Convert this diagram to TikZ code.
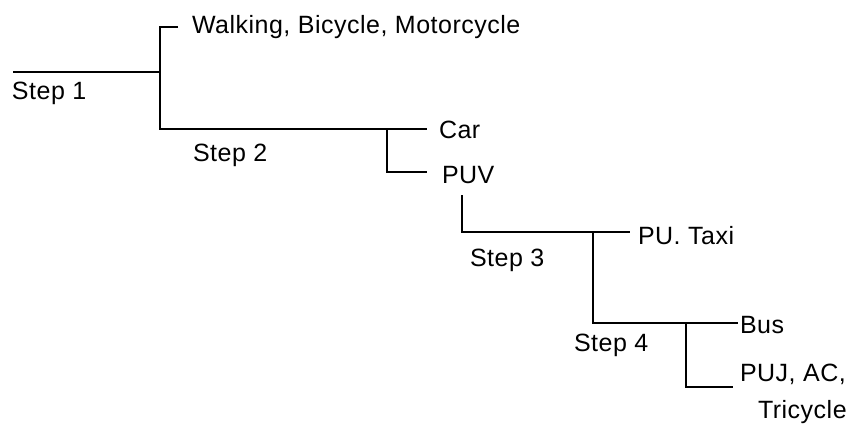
\documentclass[tikz,border=0pt]{standalone}
\usepackage{fontspec}
\setmainfont[LetterSpace=2]{Liberation Sans}
\begin{document}
\begin{tikzpicture}[x=1pt,y=-1pt,
  treeline/.style={line width=1.3pt,black},
  lbl/.style={anchor=base west,inner sep=0pt,outer sep=0pt,font=\fontsize{25}{29}\selectfont}]
\useasboundingbox (0,0) rectangle (857,426);
% junction coordinates
\coordinate (s1a) at (13,72);
\coordinate (j1) at (160,72);
\coordinate (j1t) at (160,27);
\coordinate (j1b) at (160,129);
\coordinate (walkend) at (178,27);
\coordinate (j2) at (387,129);
\coordinate (carend) at (427,129);
\coordinate (j2b) at (387,172);
\coordinate (puvend) at (427,172);
\coordinate (j3t) at (462,195);
\coordinate (j3) at (462,232);
\coordinate (j4) at (593,232);
\coordinate (taxiend) at (630,232);
\coordinate (j5) at (593,323);
\coordinate (j6) at (686,323);
\coordinate (busend) at (738,323);
\coordinate (j6b) at (686,387);
\coordinate (pujend) at (733,387);
% labels
\node[lbl] (walk) at (192,33) {Walking, Bicycle, Motorcycle};
\node[lbl] (step1) at (12,99) {Step 1};
\node[lbl] (step2) at (193,161) {Step 2};
\node[lbl] (car) at (439,138) {Car};
\node[lbl] (puv) at (442,183) {PUV};
\node[lbl] (taxi) at (638,244) {PU. Taxi};
\node[lbl] (step3) at (470,266) {Step 3};
\node[lbl] (bus) at (740,333) {Bus};
\node[lbl] (step4) at (574,351) {Step 4};
\node[lbl] (puj) at (740,381) {PUJ, AC,};
\node[lbl] (tri) at (758,418) {Tricycle};
% connectors
\draw[treeline] (s1a) -- (j1);
\draw[treeline] (walkend) -- (j1t) -- (j1b) -- (j2) -- (carend);
\draw[treeline] (j2) -- (j2b) -- (puvend);
\draw[treeline] (j3t) -- (j3) -- (taxiend);
\draw[treeline] (j4) -- (j5) -- (busend);
\draw[treeline] (j6) -- (j6b) -- (pujend);
\end{tikzpicture}
\end{document}
